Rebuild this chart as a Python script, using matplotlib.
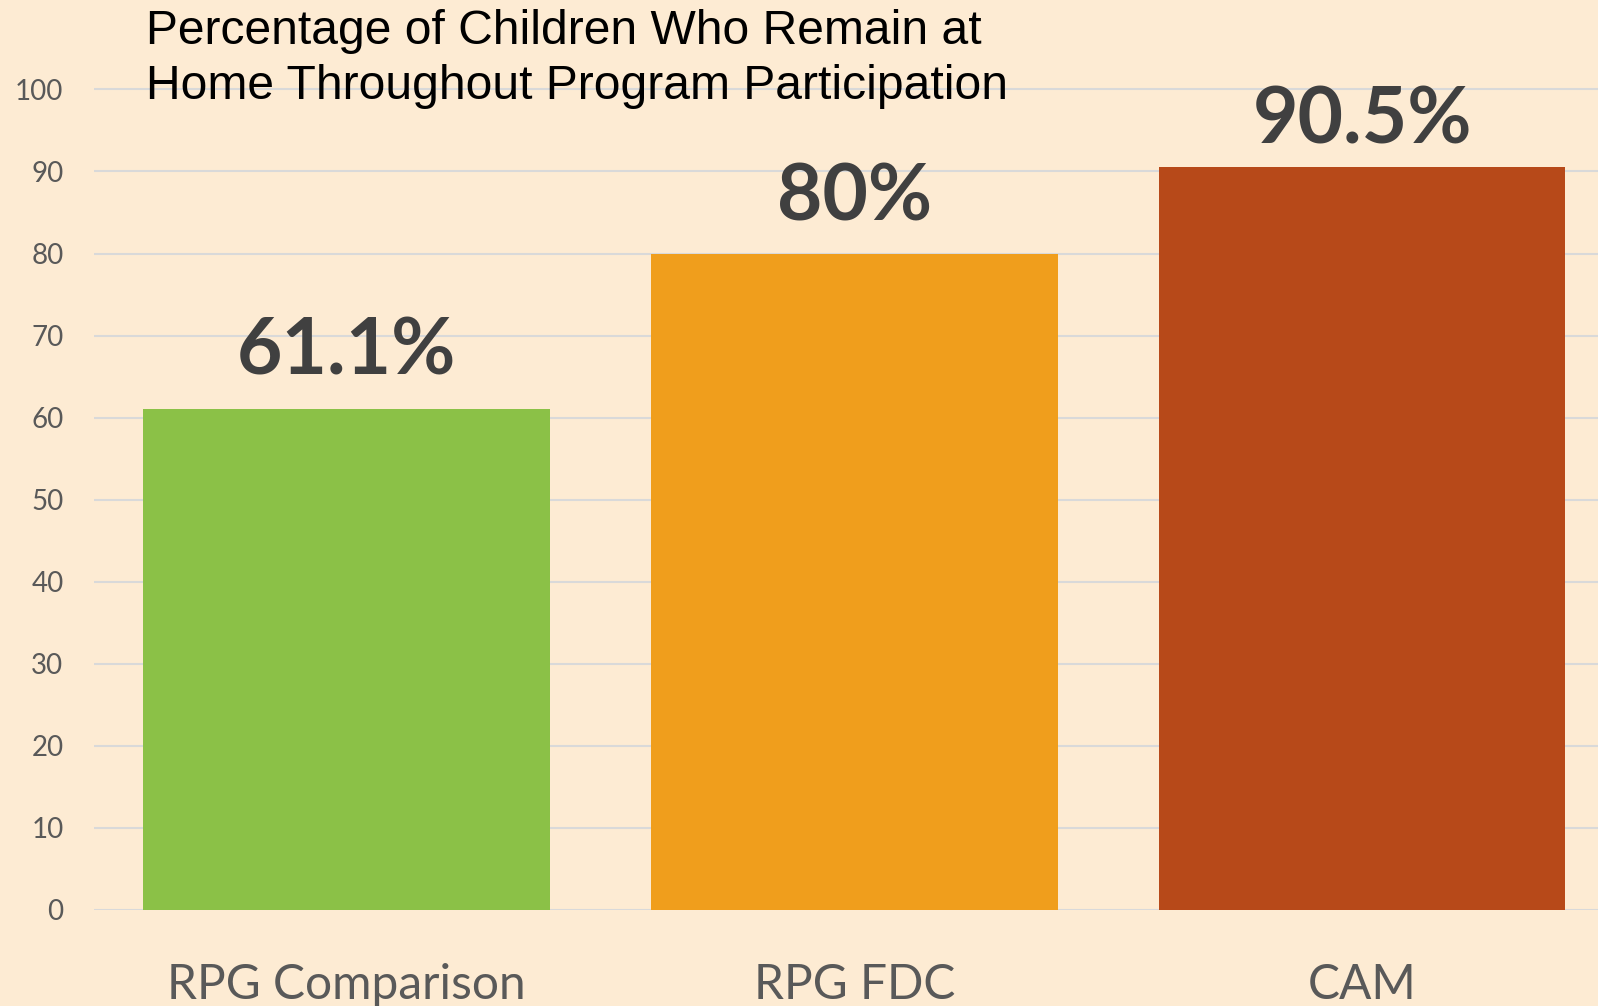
import matplotlib.pyplot as plt

groups = ['RPG Comparison', 'RPG FDC', 'CAM']
pct = [61.1, 80, 90.5]
pct_text = ['61.1%', '80%', '90.5%']
yticks = [0, 10, 20, 30, 40, 50, 60, 70, 80, 90, 100]

bg = '#FDEBD3'
bar_colors = ['#8BC147', '#F09E1C', '#B74919']
label_gap = [34, 33, 24]  # px between bar top and label baseline

fig = plt.figure(figsize=(15.98, 10.06), dpi=100, facecolor=bg)
ax = fig.add_axes([94 / 1598, 96 / 1006, 1504 / 1598, 910 / 1006])
ax.set_facecolor(bg)

x = list(range(len(groups)))
ax.bar(x, pct, width=0.8, color=bar_colors, zorder=2)

ax.set_xlim(-0.497, 2.464)
ax.set_ylim(0, 110.9)
ax.set_yticks(yticks)
ax.set_yticklabels([str(t) for t in yticks], fontsize=20, color='#595959', family='Lato')
ax.set_xticks(x)
ax.set_xticklabels(groups, fontsize=34.5, color='#595959', family='Lato')
ax.tick_params(axis='y', length=0, pad=22)
ax.tick_params(axis='x', length=0, pad=38)
ax.grid(axis='y', color='#D9D9D9', linewidth=1.5, zorder=0)
ax.set_axisbelow(True)
for s in ax.spines.values():
    s.set_visible(False)

for i in x:
    ax.annotate(pct_text[i], (i, pct[i]), xytext=(0, label_gap[i] * 0.72),
                textcoords='offset points', ha='center', va='baseline',
                fontsize=56.5, fontweight='bold', color='#404040', family='Lato')

fig.text(146 / 1598, 1 - 99 / 1006,
         'Percentage of Children Who Remain at\nHome Throughout Program Participation',
         fontsize=34.6, family='Liberation Sans', color='black', ha='left',
         va='baseline', linespacing=1.28)

fig.savefig('out.png', dpi=100, facecolor=bg)
